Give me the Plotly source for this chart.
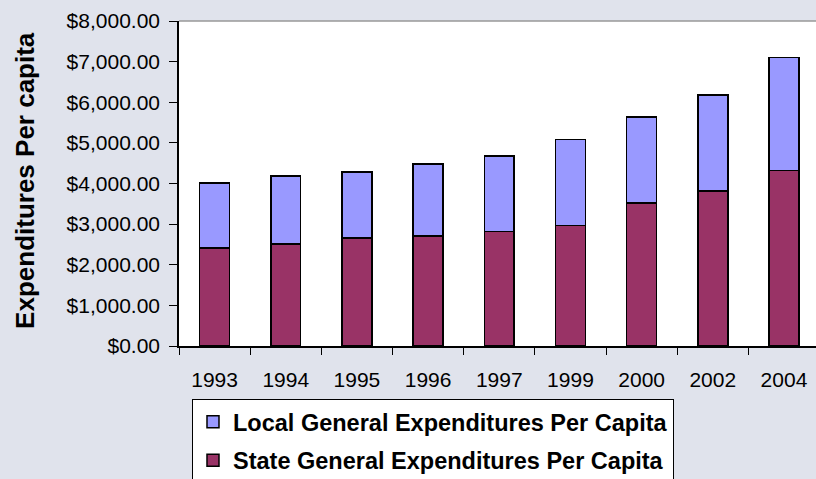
import plotly.graph_objects as go

years = ["1993", "1994", "1995", "1996", "1997", "1999", "2000", "2002", "2004"]
state_vals = [2410, 2509, 2664, 2713, 2820, 2968, 3524, 3820, 4321]
total_vals = [4016, 4181, 4279, 4476, 4681, 5083, 5632, 6181, 7100]
local_vals = [t - s for t, s in zip(total_vals, state_vals)]

BG = "#E0E3EC"
FONT = "Liberation Sans, Arial, sans-serif"

fig = go.Figure()
fig.add_trace(go.Bar(
    x=years, y=state_vals, name="State General Expenditures Per Capita",
    marker=dict(color="#993366", line=dict(color="black", width=1.5)),
    width=0.42, legendgroup="s", legendrank=2))
fig.add_trace(go.Bar(
    x=years, y=local_vals, name="Local General Expenditures Per Capita",
    marker=dict(color="#9999FF", line=dict(color="black", width=1.5)),
    width=0.42, legendgroup="l", legendrank=1))

fig.update_layout(
    barmode="stack",
    width=816, height=479,
    paper_bgcolor=BG, plot_bgcolor="white",
    margin=dict(l=179, r=0, t=21, b=133, autoexpand=False),
    font=dict(family=FONT, size=21, color="black"),
    showlegend=True,
    legend=dict(
        x=0.0204, y=-0.163, xanchor="left", yanchor="top",
        bgcolor="white", bordercolor="black", borderwidth=1,
        font=dict(size=23.5, family=FONT, weight="bold"),
        traceorder="grouped", tracegroupgap=5, itemwidth=30,
    ),
    xaxis=dict(
        type="category", range=[-0.5, 8.45],
        showline=True, linecolor="black", linewidth=1.5,
        ticks="outside", ticklen=7, tickcolor="black", tickson="boundaries",
        tickfont=dict(size=21), showgrid=False, ticklabelstandoff=14,
    ),
    yaxis=dict(
        range=[0, 8000], dtick=1000, tickformat="$,.2f",
        showline=True, linecolor="black", linewidth=1.5,
        ticks="outside", ticklen=8, tickcolor="black",
        tickfont=dict(size=21), showgrid=False, zeroline=False,
        ticklabelstandoff=5,
    ),
)
fig.add_annotation(text="<b>Expenditures Per capita</b>", xref="paper", yref="paper",
                   x=-0.2418, y=0.511, xanchor="center", yanchor="middle",
                   textangle=-90, showarrow=False,
                   font=dict(size=26, family=FONT))
fig.add_shape(type="line", xref="paper", yref="paper", x0=0, x1=1, y0=1, y1=1,
              line=dict(color="#999999", width=1.5))

fig.write_html("out.html", config={"displayModeBar": False},
               post_script="document.body.style.margin='0';")
